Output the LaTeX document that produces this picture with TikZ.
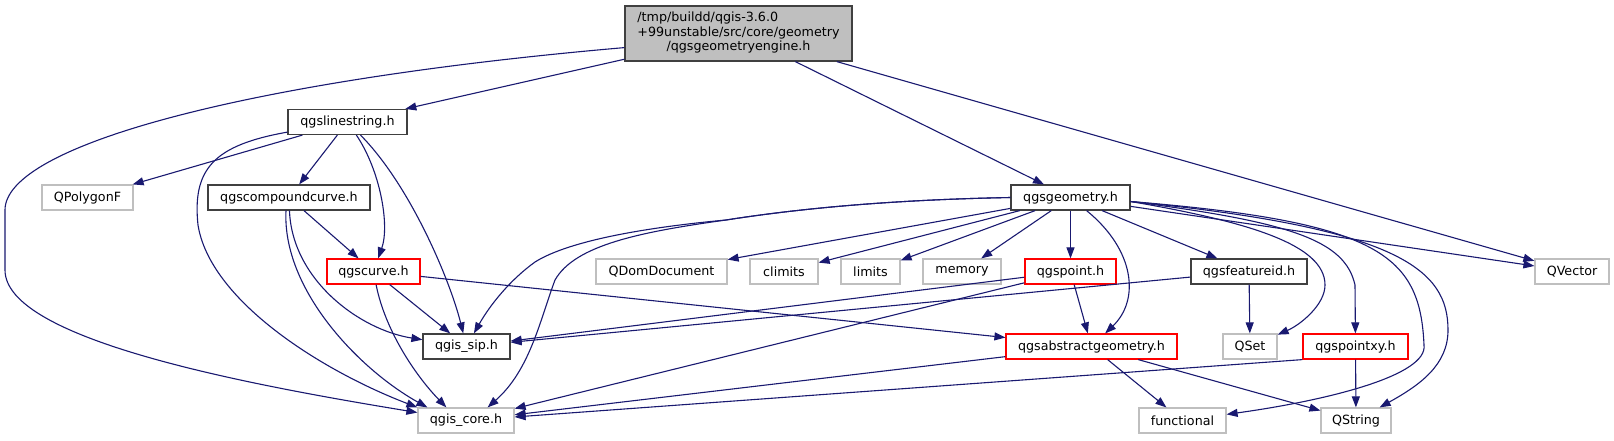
\documentclass[tikz,border=0pt]{standalone}
\usepackage{fontspec}
\setmainfont{DejaVu Sans}
\usetikzlibrary{arrows.meta}
\definecolor{edgecol}{HTML}{191970}
\definecolor{boxgray}{HTML}{BFBFBF}
\definecolor{boxdark}{HTML}{404040}
\definecolor{boxred}{HTML}{FF0000}
\begin{document}
\begin{tikzpicture}[x=1pt,y=-1pt,
  box/.style={fill=white, line width=1.2pt, minimum height=25pt, inner sep=0pt,
    font=\fontsize{12.7pt}{14.5pt}\selectfont},
  blackbox/.style={box, draw=boxdark},
  graybox/.style={box, draw=boxgray},
  redbox/.style={box, draw=boxred},
  mainbox/.style={box, draw=boxdark, fill=boxgray, minimum height=55pt},
  dep/.style={draw=edgecol, line width=1.1pt, -{Triangle[length=11pt,width=8pt]}}]
\useasboundingbox (0,0) rectangle (1614,440);

% nodes
\node[mainbox, minimum width=227pt] (main) at (738.5,33.5)
  {\begin{tabular}{@{}l@{}}/tmp/buildd/qgis-3.6.0\\+99unstable/src/core/geometry\\\multicolumn{1}{@{}c@{}}{/qgsgeometryengine.h}\end{tabular}};
\node[blackbox, minimum width=119pt] (linestring) at (347.5,122) {qgslinestring.h};
\node[graybox, minimum width=91pt] (qpolygonf) at (87.5,197.5) {QPolygonF};
\node[blackbox, minimum width=162pt] (compound) at (289,197.5) {qgscompoundcurve.h};
\node[blackbox, minimum width=119pt] (geometry) at (1070.5,197.5) {qgsgeometry.h};
\node[redbox, minimum width=93pt] (qgscurve) at (373.5,271.5) {qgscurve.h};
\node[graybox, minimum width=131pt] (qdom) at (661.5,271.5) {QDomDocument};
\node[graybox, minimum width=68pt] (climits) at (784,271.5) {climits};
\node[graybox, minimum width=59pt] (limits) at (870.5,271.5) {limits};
\node[graybox, minimum width=78pt] (memory) at (962,271.5) {memory};
\node[redbox, minimum width=91pt] (qgspoint) at (1070.5,271.5) {qgspoint.h};
\node[blackbox, minimum width=116pt] (featureid) at (1249,271.5) {qgsfeatureid.h};
\node[graybox, minimum width=74pt] (qvector) at (1572,271.5) {QVector};
\node[blackbox, minimum width=87pt] (sip) at (466.5,346.5) {qgis\_sip.h};
\node[redbox, minimum width=171pt] (abstract) at (1091.5,346.5) {qgsabstractgeometry.h};
\node[graybox, minimum width=54pt] (qset) at (1250,346.5) {QSet};
\node[redbox, minimum width=105pt] (pointxy) at (1355.5,346.5) {qgspointxy.h};
\node[graybox, minimum width=96pt] (core) at (466,420.5) {qgis\_core.h};
\node[graybox, minimum width=87pt] (functional) at (1182.5,420.5) {functional};
\node[graybox, minimum width=70pt] (qstring) at (1356,420.5) {QString};

% edges from main
\draw[dep] (main) -- (linestring);
\draw[dep] (main) -- (geometry);
\draw[dep] (main) -- (qvector);
\draw[dep] ([yshift=14pt]main.south west) .. controls (250,80) and (5,145) .. (5,210)
  -- (5,270) .. controls (5,340) and (250,385) .. (core);

% edges from qgslinestring.h
\draw[dep] (linestring) -- (qpolygonf);
\draw[dep] (linestring) -- (compound);
\draw[dep] (linestring) .. controls (380,170) and (390,225) .. (qgscurve);
\draw[dep] (linestring) .. controls (410,185) and (450,280) .. (sip);
\draw[dep] ([yshift=3pt]linestring.south west) .. controls (215,145) and (192,168) .. (198,225)
  .. controls (210,300) and (320,370) .. (core.north west);

% edges from qgscompoundcurve.h
\draw[dep] (compound) -- (qgscurve);
\draw[dep] (compound) .. controls (292,280) and (360,330) .. (sip);
\draw[dep] ([xshift=-3pt]compound.south) .. controls (282,290) and (360,370) .. ([xshift=10pt]core.north west);

% edges from qgscurve.h
\draw[dep] (qgscurve) -- (sip);
\draw[dep] (qgscurve) .. controls (385,330) and (415,375) .. ([xshift=29pt]core.north west);
\draw[dep] (qgscurve) -- (abstract);

% edges from qgsgeometry.h
\draw[dep] (geometry.west) .. controls (880,200) and (790,210) .. (726,220)
  .. controls (650,227) and (570,240) .. (535,262) .. controls (510,280) and (490,305) .. (sip);
\draw[dep] (geometry.west) .. controls (880,200) and (790,210) .. (726,220)
  .. controls (640,232) and (575,245) .. (555,280) .. controls (540,320) and (530,370) .. ([xshift=-27pt]core.north east);
\draw[dep] (geometry) -- (qdom);
\draw[dep] (geometry) -- (climits);
\draw[dep] (geometry) -- (limits);
\draw[dep] (geometry) -- (memory);
\draw[dep] (geometry) -- (qgspoint);
\draw[dep] (geometry) .. controls (1135,250) and (1140,300) .. (abstract);
\draw[dep] (geometry) -- (featureid);
\draw[dep] ([yshift=-4pt]geometry.east) .. controls (1250,222) and (1325,245) .. (1325,285)
  .. controls (1325,305) and (1300,325) .. (qset);
\draw[dep] ([yshift=-4pt]geometry.east) .. controls (1290,222) and (1345,240) .. (1355,285) -- (pointxy);
\draw[dep] ([yshift=-4pt]geometry.east) .. controls (1380,222) and (1420,255) .. (1424,345)
  .. controls (1428,375) and (1330,400) .. (functional);
\draw[dep] ([yshift=-4pt]geometry.east) .. controls (1400,228) and (1448,270) .. (1448,330)
  .. controls (1448,365) and (1420,385) .. (qstring);
\draw[dep] (geometry) -- (qvector);

% edges from qgspoint.h
\draw[dep] (qgspoint) -- (sip);
\draw[dep] (qgspoint) -- (core);
\draw[dep] (qgspoint) -- (abstract);

% edges from qgsfeatureid.h
\draw[dep] (featureid) -- (sip);
\draw[dep] (featureid) -- (qset);

% edges from qgsabstractgeometry.h
\draw[dep] (abstract) -- (core);
\draw[dep] (abstract) -- (functional);
\draw[dep] (abstract) -- (qstring);

% edges from qgspointxy.h
\draw[dep] (pointxy.south west) -- (core);
\draw[dep] (pointxy) -- (qstring);
\end{tikzpicture}
\end{document}
